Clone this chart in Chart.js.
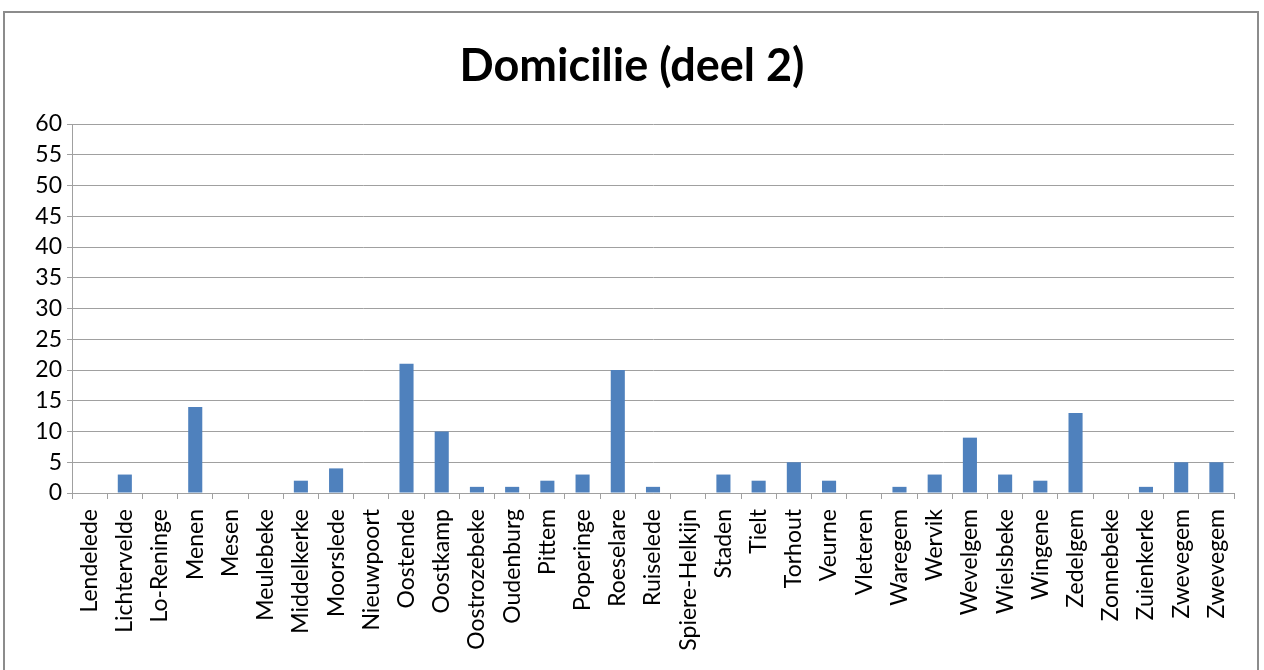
<!DOCTYPE html>
<html>
<head>
<meta charset="utf-8">
<script src="https://cdn.jsdelivr.net/npm/chart.js@4"></script>
<style>
  html, body { margin: 0; padding: 0; background: #fff; }
  body { width: 1264px; height: 670px; position: relative; overflow: hidden; }
  #frame { position: absolute; left: 3px; top: 11px; width: 1256px; height: 700px; border: 2px solid #8c8c8c; box-sizing: border-box; }
  #wrap { position: absolute; left: 0; top: 0; width: 1264px; height: 670px; }
</style>
</head>
<body>
<div id="frame"></div>
<div id="wrap"><canvas id="c" width="1264" height="670"></canvas></div>
<script>
const titleText = "Domicilie (deel 2)";
const categories = ["Lendelede","Lichtervelde","Lo-Reninge","Menen","Mesen","Meulebeke","Middelkerke","Moorslede","Nieuwpoort","Oostende","Oostkamp","Oostrozebeke","Oudenburg","Pittem","Poperinge","Roeselare","Ruiselede","Spiere-Helkijn","Staden","Tielt","Torhout","Veurne","Vleteren","Waregem","Wervik","Wevelgem","Wielsbeke","Wingene","Zedelgem","Zonnebeke","Zuienkerke","Zwevegem","Zwevegem"];
const values = [0,3,0,14,0,0,2,4,0,21,10,1,1,2,3,20,1,0,3,2,5,2,0,1,3,9,3,2,13,0,1,5,5];
const yTicks = [0,5,10,15,20,25,30,35,40,45,50,55,60];

const FONT = "Lato, 'Open Sans', sans-serif";
new Chart(document.getElementById('c'), {
  type: 'bar',
  data: {
    labels: categories,
    datasets: [{
      data: values,
      backgroundColor: '#4f81bd',
      borderWidth: 0,
      barPercentage: 0.4,
      categoryPercentage: 1.0
    }]
  },
  options: {
    responsive: false,
    animation: false,
    layout: { padding: { left: 30, right: 30, top: 0, bottom: 0 } },
    plugins: {
      legend: { display: false },
      tooltip: { enabled: false },
      title: {
        display: true,
        text: titleText,
        color: '#000',
        font: { family: FONT, size: 45, weight: 'bold', lineHeight: 1.2 },
        padding: { top: 39, bottom: 31 }
      }
    },
    scales: {
      x: {
        grid: { display: true, drawOnChartArea: false, drawTicks: true, tickLength: 6, color: '#a0a0a0', offset: true },
        border: { display: true, color: '#a0a0a0', width: 1 },
        ticks: { color: '#000', font: { family: FONT, size: 23 }, minRotation: 90, maxRotation: 90, autoSkip: false, padding: 10 },
        afterFit: (s) => { s.height = 177; }
      },
      y: {
        min: 0, max: 60,
        afterBuildTicks: (s) => { s.ticks = yTicks.map(v => ({ value: v })); },
        grid: { display: true, color: '#a0a0a0', lineWidth: 1, drawTicks: true, tickLength: 5 },
        border: { display: true, color: '#a0a0a0', width: 1 },
        ticks: { color: '#000', font: { family: FONT, size: 23, lineHeight: 1.0 }, padding: 5, autoSkip: false },
        afterFit: (s) => { s.width = 42; }
      }
    }
  }
});
</script>
</body>
</html>
